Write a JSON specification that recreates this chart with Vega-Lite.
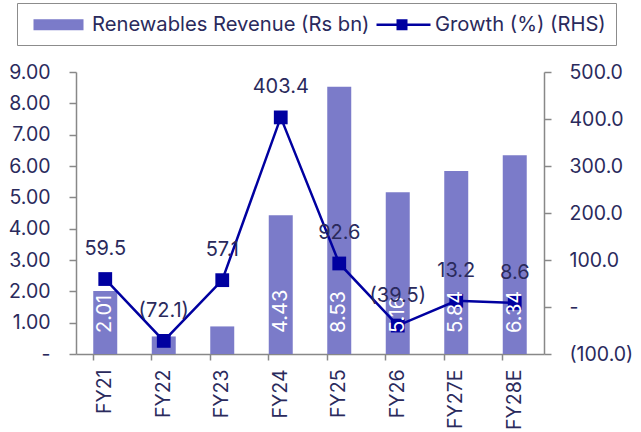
{
  "$schema": "https://vega.github.io/schema/vega-lite/v6.json",
  "width": 468,
  "height": 282,
  "autosize": {"type": "none"},
  "padding": {"left": 76, "top": 72, "right": 97, "bottom": 78},
  "background": "white",
  "config": {
    "font": "Inter",
    "view": {"stroke": null},
    "axis": {"labelFont": "Inter", "labelColor": "#2a2a5c", "labelFontSize": 19.5, "domainColor": "#888888", "tickColor": "#888888", "domainWidth": 1.5, "tickWidth": 1.5, "tickSize": 7, "grid": false, "title": null, "labelOverlap": false}
  },
  "datasets": {
    "main": [
      {"fy": "FY21", "rev": 2.01, "rlabel": "2.01", "growth": 59.5, "glabel": "59.5"},
      {"fy": "FY22", "rev": 0.56, "rlabel": "0.56", "growth": -72.1, "glabel": "(72.1)"},
      {"fy": "FY23", "rev": 0.88, "rlabel": "0.88", "growth": 57.1, "glabel": "57.1"},
      {"fy": "FY24", "rev": 4.43, "rlabel": "4.43", "growth": 403.4, "glabel": "403.4"},
      {"fy": "FY25", "rev": 8.53, "rlabel": "8.53", "growth": 92.6, "glabel": "92.6"},
      {"fy": "FY26", "rev": 5.16, "rlabel": "5.16", "growth": -39.5, "glabel": "(39.5)"},
      {"fy": "FY27E", "rev": 5.84, "rlabel": "5.84", "growth": 13.2, "glabel": "13.2"},
      {"fy": "FY28E", "rev": 6.34, "rlabel": "6.34", "growth": 8.6, "glabel": "8.6"}
    ],
    "legend": [
      {"series": "Renewables Revenue (Rs bn)"},
      {"series": "Growth (%) (RHS)"}
    ]
  },
  "layer": [
    {
      "data": {"name": "main"},
      "mark": {"type": "bar", "color": "#7b7bc9"},
      "encoding": {
        "x": {
          "field": "fy", "type": "nominal", "sort": null,
          "scale": {"paddingInner": 0.59, "paddingOuter": 0.295},
          "axis": {"labelAngle": 270, "labelPadding": 9, "bandPosition": 0, "tickSize": 6}
        },
        "y": {"field": "rev", "type": "quantitative", "scale": {"domain": [0, 9], "nice": false},
          "axis": {"orient": "left", "values": [0,1,2,3,4,5,6,7,8,9], "labelPadding": 19,
            "labelExpr": "datum.value == 0 ? '-' : format(datum.value, '.2f')"}}
      }
    },
    {
      "data": {"name": "main"},
      "mark": {"type": "line", "color": "#0000a0", "strokeWidth": 2.5, "point": {"shape": "square", "size": 190, "filled": true, "color": "#0000a0"}},
      "encoding": {
        "x": {"field": "fy", "type": "nominal", "sort": null},
        "y": {"field": "growth", "type": "quantitative", "scale": {"domain": [-100, 500], "nice": false},
          "axis": {"orient": "right", "values": [-100, 0, 100, 200, 300, 400, 500], "labelPadding": 18,
            "labelExpr": "datum.value == 0 ? '-' : datum.value < 0 ? '(' + format(-datum.value, '.1f') + ')' : format(datum.value, '.1f')"}}
      }
    },
    {
      "data": {"name": "main"},
      "transform": [{"filter": "datum.rev > 1"}],
      "mark": {"type": "text", "angle": 270, "align": "left", "baseline": "middle", "dx": 21, "color": "white", "fontSize": 20, "font": "Inter"},
      "encoding": {
        "x": {"field": "fy", "type": "nominal", "sort": null},
        "y": {"datum": 0, "type": "quantitative", "scale": {"domain": [0, 9], "nice": false}, "axis": null},
        "text": {"field": "rlabel"}
      }
    },
    {
      "data": {"name": "main"},
      "mark": {"type": "text", "dy": -30, "color": "#2a2a5c", "fontSize": 20, "font": "Inter", "baseline": "middle"},
      "encoding": {
        "x": {"field": "fy", "type": "nominal", "sort": null},
        "y": {"field": "growth", "type": "quantitative", "scale": {"domain": [-100, 500], "nice": false}, "axis": null},
        "text": {"field": "glabel"}
      }
    },
    {
      "data": {"name": "legend"},
      "mark": {"type": "point", "opacity": 0, "size": 400, "strokeWidth": 2.5},
      "encoding": {
        "fill": {"field": "series", "type": "nominal", "sort": null,
          "scale": {"domain": ["Renewables Revenue (Rs bn)", "Growth (%) (RHS)"], "range": ["#7b7bc9", "#0000a0"]},
          "legend": {"title": null, "orient": "none", "legendX": -59, "legendY": -69, "direction": "horizontal",
            "symbolSize": 400, "symbolOpacity": 1, "symbolStrokeWidth": 2.5, "labelFontSize": 20.2, "labelFont": "Inter", "labelColor": "#2a2a5c",
            "labelOffset": 42, "columnPadding": 0, "padding": 10, "strokeColor": "#8c8c8c", "labelLimit": 400}},
        "stroke": {"field": "series", "type": "nominal", "sort": null,
          "scale": {"domain": ["Renewables Revenue (Rs bn)", "Growth (%) (RHS)"], "range": ["#7b7bc9", "#0000a0"]},
          "legend": {"title": null, "orient": "none", "legendX": -59, "legendY": -69, "direction": "horizontal",
            "symbolSize": 400, "symbolOpacity": 1, "symbolStrokeWidth": 2.5, "labelFontSize": 20.2, "labelFont": "Inter", "labelColor": "#2a2a5c",
            "labelOffset": 42, "columnPadding": 0, "padding": 10, "strokeColor": "#8c8c8c", "labelLimit": 400}},
        "shape": {"field": "series", "type": "nominal", "sort": null,
          "scale": {"domain": ["Renewables Revenue (Rs bn)", "Growth (%) (RHS)"], "range": ["M-0.375,-0.425H4.375V0.425H-0.375Z", "M-0.5,0H4.9M1.625,-0.425H2.475V0.425H1.625Z"]},
          "legend": {"title": null, "orient": "none", "legendX": -59, "legendY": -69, "direction": "horizontal",
            "symbolSize": 400, "symbolOpacity": 1, "symbolStrokeWidth": 2.5, "labelFontSize": 20.2, "labelFont": "Inter", "labelColor": "#2a2a5c",
            "labelOffset": 42, "columnPadding": 0, "padding": 10, "strokeColor": "#8c8c8c", "labelLimit": 400}}
      }
    }
  ],
  "resolve": {"scale": {"y": "independent"}}
}
